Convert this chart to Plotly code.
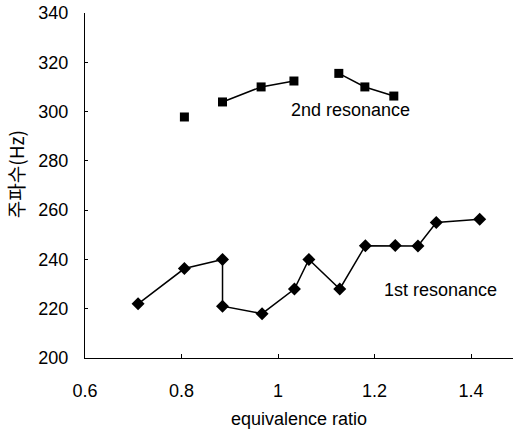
import plotly.graph_objects as go

# 1st resonance
x1 = [0.71, 0.806, 0.885, 0.885, 0.967, 1.034, 1.064, 1.128, 1.181, 1.243, 1.29, 1.328, 1.418]
y1 = [222, 236.3, 240, 221, 218, 228, 240, 228, 245.6, 245.7, 245.5, 255, 256.3]

# 2nd resonance (None = break in the line)
x2 = [0.806, None, 0.885, 0.965, 1.033, None, 1.126, 1.18, 1.24]
y2 = [297.8, None, 303.9, 310, 312.4, None, 315.5, 310, 306.3]

xticks = [0.6, 0.8, 1.0, 1.2, 1.4]
xticklabels = ["0.6", "0.8", "1", "1.2", "1.4"]
yticks = [200, 220, 240, 260, 280, 300, 320, 340]

FONT = "Liberation Sans, Arial, sans-serif"

fig = go.Figure()
fig.add_trace(go.Scatter(
    x=x1, y=y1, mode="lines+markers",
    line=dict(color="black", width=1.5),
    marker=dict(symbol="diamond", size=10, color="black"),
    showlegend=False,
))
fig.add_trace(go.Scatter(
    x=x2, y=y2, mode="lines+markers", connectgaps=False,
    line=dict(color="black", width=1.5),
    marker=dict(symbol="square", size=9, color="black"),
    showlegend=False,
))

fig.add_annotation(x=1.15, y=300.8, text="2nd resonance", showarrow=False,
                   font=dict(family=FONT, size=18, color="black"))
fig.add_annotation(x=1.458, y=227.5, text="1st resonance", showarrow=False,
                   xanchor="right",
                   font=dict(family=FONT, size=18, color="black"))
fig.add_annotation(xref="paper", yref="paper",
                   x=(15 - 85) / (513 - 85), y=(357.7 - 174) / (357.7 - 13),
                   xanchor="center", yanchor="middle",
                   text="주파수(Hz)", showarrow=False, textangle=-90,
                   font=dict(family="Noto Sans CJK KR, sans-serif", size=19, color="black"))

fig.update_layout(
    width=513, height=436,
    margin=dict(l=85, r=0, t=13, b=78),
    paper_bgcolor="white", plot_bgcolor="white",
    font=dict(family=FONT, size=18, color="black"),
    xaxis=dict(
        range=[0.6, 1.487], tickvals=xticks, ticktext=xticklabels,
        showgrid=False, zeroline=False, showline=True, linecolor="black", linewidth=1,
        ticks="inside", ticklen=4, tickcolor="black", ticklabelstandoff=16,
        title=dict(text="equivalence ratio", standoff=12, font=dict(size=18)),
    ),
    yaxis=dict(
        range=[200, 340], tickvals=yticks,
        showgrid=False, zeroline=False, showline=True, linecolor="black", linewidth=1,
        ticks="inside", ticklen=3, tickcolor="black", ticklabelstandoff=12,
    ),
)

fig.write_html("out.html")
